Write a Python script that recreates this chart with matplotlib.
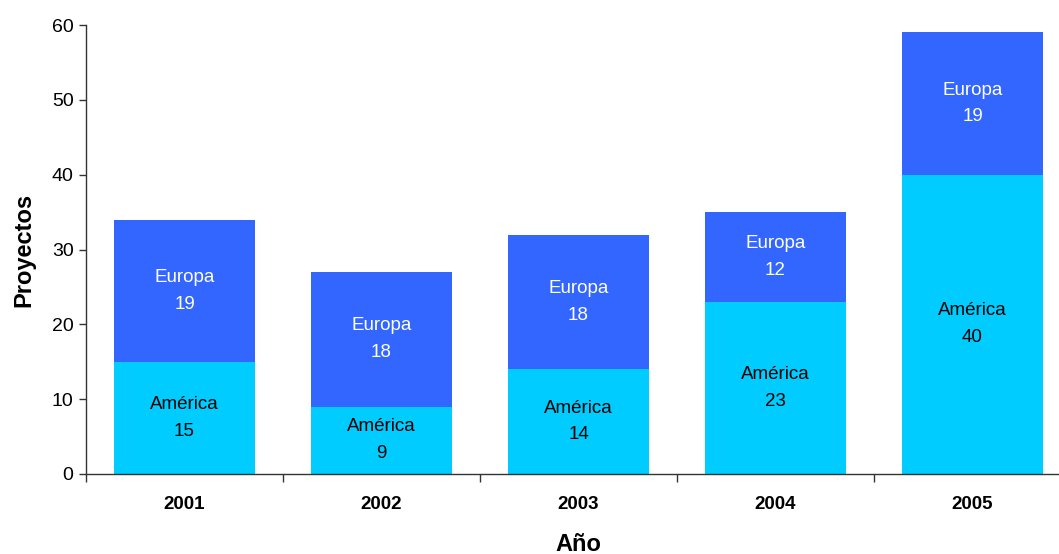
import matplotlib
matplotlib.use("Agg")
import matplotlib.pyplot as plt
import numpy as np

years = ["2001", "2002", "2003", "2004", "2005"]
america = [15, 9, 14, 23, 40]
europa = [19, 18, 18, 12, 19]

plt.rcParams['font.family'] = ['Liberation Sans', 'DejaVu Sans']

fig = plt.figure(figsize=(10.59, 5.54), dpi=100)
ax = fig.add_axes([86/1059, 80/554, 985/1059, 449/554])

x = np.arange(len(years))
w = 0.72
ax.bar(x, america, width=w, color="#00CCFF", linewidth=0)
ax.bar(x, europa, width=w, bottom=america, color="#3366FF", linewidth=0)

for i in range(len(years)):
    ax.text(x[i], america[i] / 2, f"América\n{america[i]}", ha="center", va="center",
            fontsize=13.5, color="black", linespacing=1.75)
    ax.text(x[i], america[i] + europa[i] / 2, f"Europa\n{europa[i]}", ha="center", va="center",
            fontsize=13.5, color="white", linespacing=1.75)

ax.set_xlim(-0.5, len(years) - 0.5)
ax.set_ylim(0, 60)
ax.set_yticks(range(0, 61, 10))
ax.tick_params(axis='y', labelsize=14, length=5, width=1, color="#333333", pad=4)
ax.set_xticks(x)
ax.set_xticklabels(years, fontsize=13.5, fontweight="bold")
ax.tick_params(axis='x', which='major', length=0, pad=16)
ax.set_xticks(np.arange(-0.5, len(years), 1), minor=True)
ax.tick_params(axis='x', which='minor', length=6, width=1, color="#333333")

for s in ["top", "right"]:
    ax.spines[s].set_visible(False)
for s in ["left", "bottom"]:
    ax.spines[s].set_color("#333333")
    ax.spines[s].set_linewidth(1)

ax.set_ylabel("Proyectos", fontsize=17, fontweight="bold", labelpad=12)
ax.set_xlabel("Año", fontsize=17, fontweight="bold", labelpad=14)

fig.savefig("out.png", dpi=100)
